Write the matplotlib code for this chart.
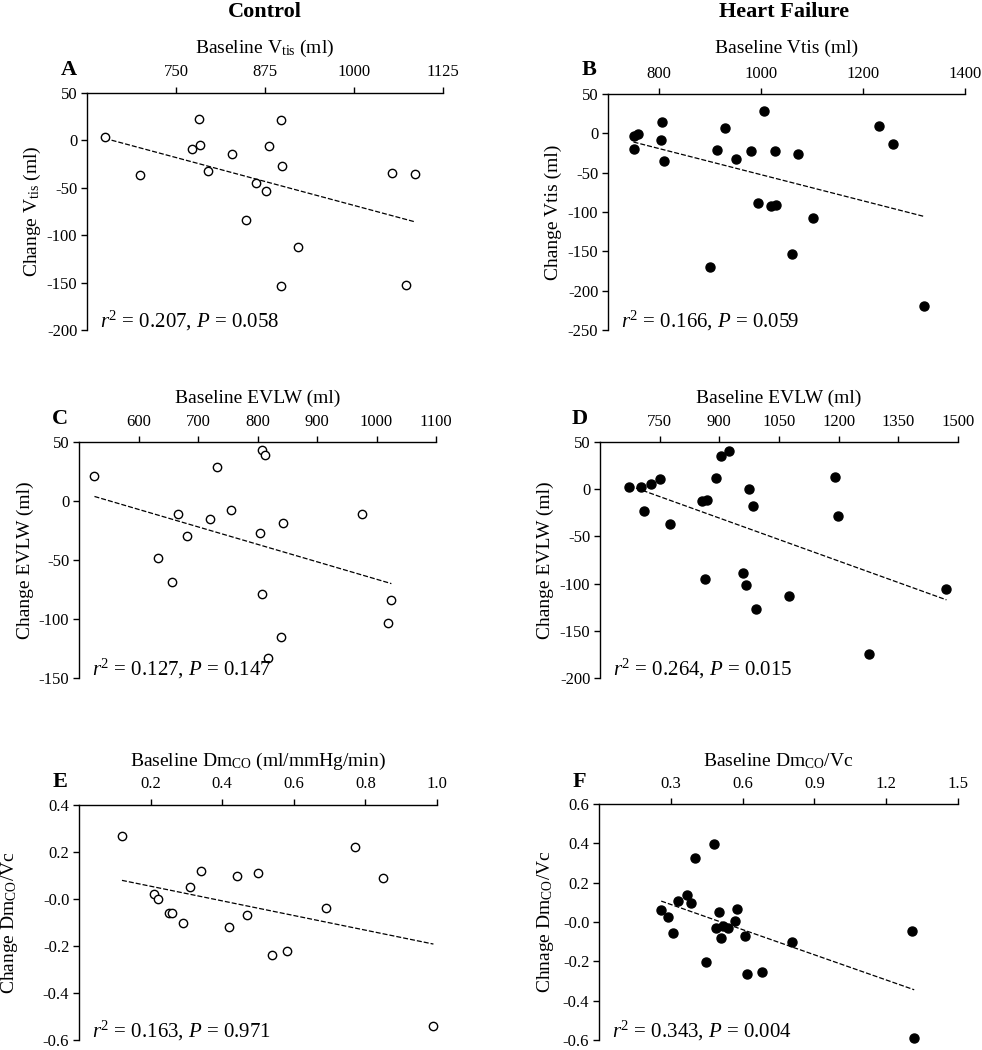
import numpy as np
import matplotlib
matplotlib.use("Agg")
import matplotlib.pyplot as plt

plt.rcParams['font.family'] = 'Liberation Serif'
plt.rcParams['mathtext.fontset'] = 'custom'
plt.rcParams['mathtext.rm'] = 'Liberation Serif'
plt.rcParams['mathtext.it'] = 'Liberation Serif:italic'
plt.rcParams['axes.unicode_minus'] = False

# ---- data ----
# A: control, Vtis
a_x = [650, 699, 782, 773, 784, 795, 829, 848, 862, 876, 880, 898, 899, 897, 921, 1054, 1086, 1073]
a_y = [4, -36, 23, -9, -5, -32, -14, -84, -45, -53, -6, 21, -27, -154, -112, -34, -35, -153]
# B: heart failure, Vtis
b_x = [750, 758, 751, 806, 803, 809, 900, 913, 930, 951, 980, 994, 1006, 1020, 1029, 1027, 1060,
       1072, 1101, 1231, 1259, 1319]
b_y = [-3, -1, -20, 15, -8, -35, -170, -21, 7, -32, -22, -89, 28, -93, -91, -23, -154,
       -26, -107, 9, -13, -219]
# C: control, EVLW
c_x = [526, 633, 657, 667, 682, 720, 732, 755, 805, 808, 807, 812, 818, 840, 843, 975, 1020, 1025]
c_y = [21, -48, -69, -11, -30, -15, 29, -8, -27, -79, 43, 39, -133, -115, -19, -11, -103, -84]
# D: heart failure, EVLW
d_x = [674, 704, 729, 752, 711, 775, 857, 870, 864, 891, 903, 924, 960, 966, 974, 984, 991,
       1074, 1190, 1199, 1275, 1471]
d_y = [2, 2, 5, 11, -23, -37, -12, -11, -95, 12, 35, 40, -89, -101, 0, -18, -127,
       -113, 13, -28, -175, -106]
# E: control, DmCO
e_x = [0.12, 0.21, 0.22, 0.25, 0.26, 0.29, 0.31, 0.34, 0.42, 0.44, 0.47, 0.50, 0.54, 0.58,
       0.69, 0.77, 0.85, 0.99]
e_y = [0.27, 0.02, 0.00, -0.06, -0.06, -0.10, 0.05, 0.12, -0.12, 0.10, -0.07, 0.11, -0.24, -0.22,
       -0.04, 0.22, 0.09, -0.54]
# F: heart failure, DmCO/Vc
f_x = [0.26, 0.29, 0.31, 0.33, 0.368, 0.386, 0.40, 0.448, 0.48, 0.488, 0.50, 0.51, 0.52, 0.541,
       0.568, 0.578, 0.608, 0.62, 0.68, 0.808, 1.307, 1.317]
f_y = [0.06, 0.025, -0.054, 0.107, 0.136, 0.099, 0.327, -0.203, 0.398, -0.032, 0.049, -0.082,
       -0.018, -0.032, 0.005, 0.065, -0.072, -0.263, -0.253, -0.104, -0.044, -0.59]

panels = [
    dict(letter='A', x=a_x, y=a_y, filled=False, xlim=(625, 1125), ylim=(-200, 50),
         xticks=[750, 875, 1000, 1125], xticklabels=['750', '875', '1000', '1125'],
         yticks=[50, 0, -50, -100, -150, -200], yticklabels=['50', '0', '-50', '-100', '-150', '-200'],
         xlabel='Baseline V$_{\\mathrm{tis}}$ (ml)', ylabel='Change V$_{\\mathrm{tis}}$ (ml)',
         stats='$r^2$ = 0.207, $P$ = 0.058'),
    dict(letter='B', x=b_x, y=b_y, filled=True, xlim=(700, 1400), ylim=(-250, 50),
         xticks=[800, 1000, 1200, 1400], xticklabels=['800', '1000', '1200', '1400'],
         yticks=[50, 0, -50, -100, -150, -200, -250],
         yticklabels=['50', '0', '-50', '-100', '-150', '-200', '-250'],
         xlabel='Baseline Vtis (ml)', ylabel='Change Vtis (ml)',
         stats='$r^2$ = 0.166, $P$ = 0.059'),
    dict(letter='C', x=c_x, y=c_y, filled=False, xlim=(500, 1100), ylim=(-150, 50),
         xticks=[600, 700, 800, 900, 1000, 1100],
         xticklabels=['600', '700', '800', '900', '1000', '1100'],
         yticks=[50, 0, -50, -100, -150], yticklabels=['50', '0', '-50', '-100', '-150'],
         xlabel='Baseline EVLW (ml)', ylabel='Change EVLW (ml)',
         stats='$r^2$ = 0.127, $P$ = 0.147'),
    dict(letter='D', x=d_x, y=d_y, filled=True, xlim=(600, 1500), ylim=(-200, 50),
         xticks=[750, 900, 1050, 1200, 1350, 1500],
         xticklabels=['750', '900', '1050', '1200', '1350', '1500'],
         yticks=[50, 0, -50, -100, -150, -200], yticklabels=['50', '0', '-50', '-100', '-150', '-200'],
         xlabel='Baseline EVLW (ml)', ylabel='Change EVLW (ml)',
         stats='$r^2$ = 0.264, $P$ = 0.015'),
    dict(letter='E', x=e_x, y=e_y, filled=False, xlim=(0, 1.0), ylim=(-0.6, 0.4),
         xticks=[0.2, 0.4, 0.6, 0.8, 1.0], xticklabels=['0.2', '0.4', '0.6', '0.8', '1.0'],
         yticks=[0.4, 0.2, 0.0, -0.2, -0.4, -0.6],
         yticklabels=['0.4', '0.2', '-0.0', '-0.2', '-0.4', '-0.6'],
         xlabel='Baseline Dm$_{\\mathrm{CO}}$ (ml/mmHg/min)', ylabel='Change Dm$_{\\mathrm{CO}}$/Vc',
         stats='$r^2$ = 0.163, $P$ = 0.971'),
    dict(letter='F', x=f_x, y=f_y, filled=True, xlim=(0, 1.5), ylim=(-0.6, 0.6),
         xticks=[0.3, 0.6, 0.9, 1.2, 1.5], xticklabels=['0.3', '0.6', '0.9', '1.2', '1.5'],
         yticks=[0.6, 0.4, 0.2, 0.0, -0.2, -0.4, -0.6],
         yticklabels=['0.6', '0.4', '0.2', '-0.0', '-0.2', '-0.4', '-0.6'],
         xlabel='Baseline Dm$_{\\mathrm{CO}}$/Vc', ylabel='Chnage Dm$_{\\mathrm{CO}}$/Vc',
         stats='$r^2$ = 0.343, $P$ = 0.004'),
]

# layout in pixels: axes box (left, top, right, bottom), ylabel centre x, xlabel baseline y,
# letter (x, baseline y)
W, H = 982, 1050
layout = [
    dict(box=(87, 93, 443, 330), ylab_x=32, xlab_y=53, let=(61, 75)),
    dict(box=(608, 94, 965, 330), ylab_x=553, xlab_y=53, let=(582, 75)),
    dict(box=(79, 442, 436, 678), ylab_x=25, xlab_y=403, let=(52, 424)),
    dict(box=(600, 442, 958, 678), ylab_x=545, xlab_y=403, let=(572, 424)),
    dict(box=(79, 805, 437, 1040), ylab_x=10, xlab_y=766, let=(53, 787)),
    dict(box=(599, 804, 958, 1040), ylab_x=545, xlab_y=766, let=(573, 787)),
]

fig = plt.figure(figsize=(W / 100, H / 100), dpi=100)

fig.text(265 / W, 1 - 17 / H, 'Control', ha='center', va='baseline', fontsize=16, fontweight='bold')
fig.text(784 / W, 1 - 17 / H, 'Heart Failure', ha='center', va='baseline', fontsize=16,
         fontweight='bold')

for p, lay in zip(panels, layout):
    l, t, r, b = lay['box']
    w, h = r - l, b - t
    ax = fig.add_axes([l / W, 1 - b / H, w / W, h / H])

    x = np.array(p['x'], dtype=float)
    y = np.array(p['y'], dtype=float)
    if p['filled']:
        ax.plot(x, y, 'o', color='black', ms=6.5, clip_on=False, zorder=3)
    else:
        ax.plot(x, y, 'o', mfc='white', mec='black', mew=1.0, ms=6, clip_on=False, zorder=3)

    # least squares line over the range of the data
    k, c = np.polyfit(x, y, 1)
    xx = np.array([x.min(), x.max()])
    ax.plot(xx, k * xx + c, color='black', lw=0.9, ls=(0, (4, 1.6)), zorder=2)

    ax.set_xlim(*p['xlim'])
    ax.set_ylim(*p['ylim'])
    ax.set_xticks(p['xticks'], p['xticklabels'])
    ax.set_yticks(p['yticks'], p['yticklabels'])

    ax.spines['bottom'].set_visible(False)
    ax.spines['right'].set_visible(False)
    for s in ('top', 'left'):
        ax.spines[s].set_linewidth(1.0)
    ax.xaxis.tick_top()
    ax.tick_params(axis='x', length=4, width=1, pad=5, labelsize=12)
    ax.tick_params(axis='y', length=4, width=1, pad=3, labelsize=12)

    ax.set_xlabel(p['xlabel'], fontsize=14)
    ax.xaxis.set_label_position('top')
    ax.xaxis.set_label_coords(0.5, (b - lay['xlab_y']) / h)
    ax.set_ylabel(p['ylabel'], fontsize=14)
    ax.yaxis.set_label_coords((lay['ylab_x'] - l) / w, 0.5)
    ax.yaxis.label.set_va('center')

    ax.text(0.036, 0.012, p['stats'], transform=ax.transAxes, fontsize=15, va='baseline')

    lx, ly = lay['let']
    fig.text(lx / W, 1 - ly / H, p['letter'], fontsize=16, fontweight='bold', va='baseline')

fig.savefig('out.png', dpi=100)
